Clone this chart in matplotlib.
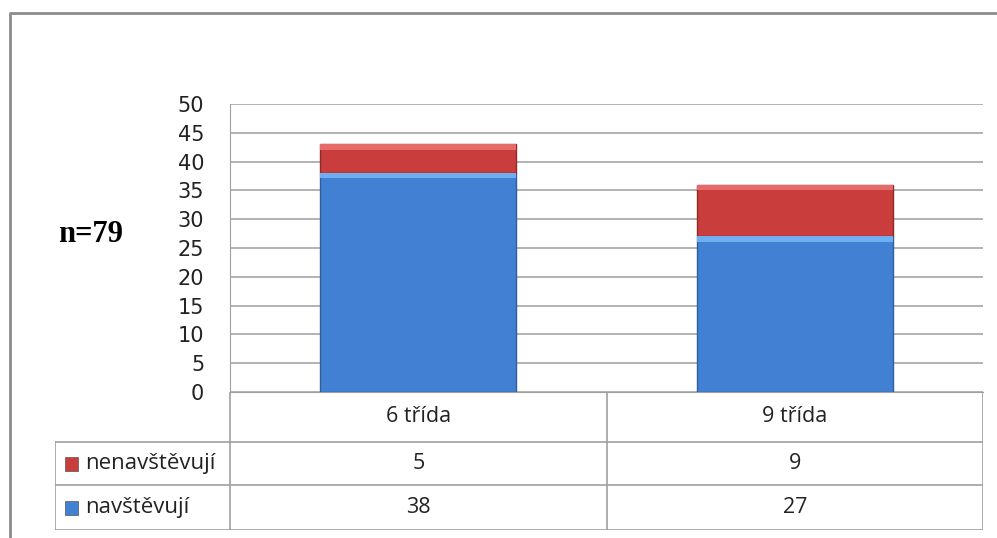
"""Stacked bar chart with data table below (navštěvují / nenavštěvují)."""
import numpy as np
import matplotlib
matplotlib.use("Agg")
import matplotlib.pyplot as plt
from matplotlib.patches import Rectangle

categories = ["6 třída", "9 třída"]
series_names = ["nenavštěvují", "navštěvují"]   # table row order
navstevuji = [38, 27]
nenavstevuji = [5, 9]
yticks = list(range(0, 51, 5))
note = "n=79"

c_blue = "#4180D2"
c_blue_edge = "#2F5E9C"
c_red = "#C93D3C"
c_red_edge = "#8E2A2A"
grid_c = "#A6A6A6"
tab_c = "#A0A0A0"

W, H = 997, 538
fig = plt.figure(figsize=(W / 100, H / 100), dpi=100)

def px(x0, y0, x1, y1):
    return [x0 / W, 1 - y1 / H, (x1 - x0) / W, (y1 - y0) / H]

# outer frame
frame = fig.add_axes([0, 0, 1, 1])
frame.set_xlim(0, W); frame.set_ylim(H, 0); frame.axis("off")
frame.plot([10, 10, W], [H, 13, 13], color="#8C8C8C", lw=2)

# main chart
ax = fig.add_axes(px(230, 104, 983, 392))
x = np.arange(len(categories)) + 0.5
bw = 0.52
ax.bar(x, navstevuji, bw, color=c_blue, edgecolor=c_blue_edge, lw=1, zorder=3)
ax.bar(x, nenavstevuji, bw, bottom=navstevuji, color=c_red, edgecolor=c_red_edge, lw=1, zorder=3)
# bevel highlights
for xi, b, r in zip(x, navstevuji, nenavstevuji):
    ax.add_patch(Rectangle((xi - bw / 2, b - 0.9), bw, 0.9, color="#6FAEF0", lw=0, zorder=4))
    ax.add_patch(Rectangle((xi - bw / 2, b + r - 0.9), bw, 0.9, color="#E56A69", lw=0, zorder=4))
ax.set_xlim(0, len(categories))
ax.set_ylim(0, 50)
ax.set_yticks(yticks)
ax.set_yticklabels([str(t) for t in yticks], fontsize=15, family="DejaVu Sans", color="#222222")
ax.tick_params(axis="y", length=0, pad=18.5)
ax.set_xticks([])
ax.yaxis.grid(True, color=grid_c, lw=1.2, zorder=0)
for s in ["top", "right"]:
    ax.spines[s].set_visible(False)
ax.spines["left"].set_color(tab_c)
ax.spines["bottom"].set_color(tab_c)

fig.text(58 / W, 1 - 235 / H, note, fontsize=22, fontweight="bold",
         family="Liberation Serif", va="center", ha="left")

# data table
tab = fig.add_axes(px(55, 392, 983, 530))
lw_leg = 175 / 376.5
tab.set_xlim(-lw_leg, len(categories))
row_edges = [0, 50, 93, 138]
tab.set_ylim(row_edges[-1], 0)
tab.axis("off")
kw = dict(color=tab_c, lw=1.2)
for yv in row_edges[1:]:
    tab.plot([-lw_leg, len(categories)], [yv, yv], **kw)
tab.plot([-lw_leg, -lw_leg], [row_edges[1], row_edges[-1]], **kw)
for xv in range(len(categories) + 1):
    tab.plot([xv, xv], [0, row_edges[-1]], **kw)

tfont = dict(fontsize=15.5, family="Open Sans", va="center", ha="center", color="#222222")
for i, c in enumerate(categories):
    tab.text(i + 0.5, (row_edges[0] + row_edges[1]) / 2, c, **tfont)
rows = {"nenavštěvují": (nenavstevuji, c_red), "navštěvují": (navstevuji, c_blue)}
for r, name in enumerate(series_names):
    vals, col = rows[name]
    yc = (row_edges[r + 1] + row_edges[r + 2]) / 2
    tab.add_patch(Rectangle((-lw_leg + 10 / 376.5, yc - 7), 13 / 376.5, 14,
                            facecolor=col, edgecolor="#555555", lw=0.5))
    tab.text(-lw_leg + 30 / 376.5, yc, name, **{**tfont, "ha": "left", "fontsize": 16})
    for i, v in enumerate(vals):
        tab.text(i + 0.5, yc, str(v), **tfont)

fig.savefig("out.png", dpi=100)
